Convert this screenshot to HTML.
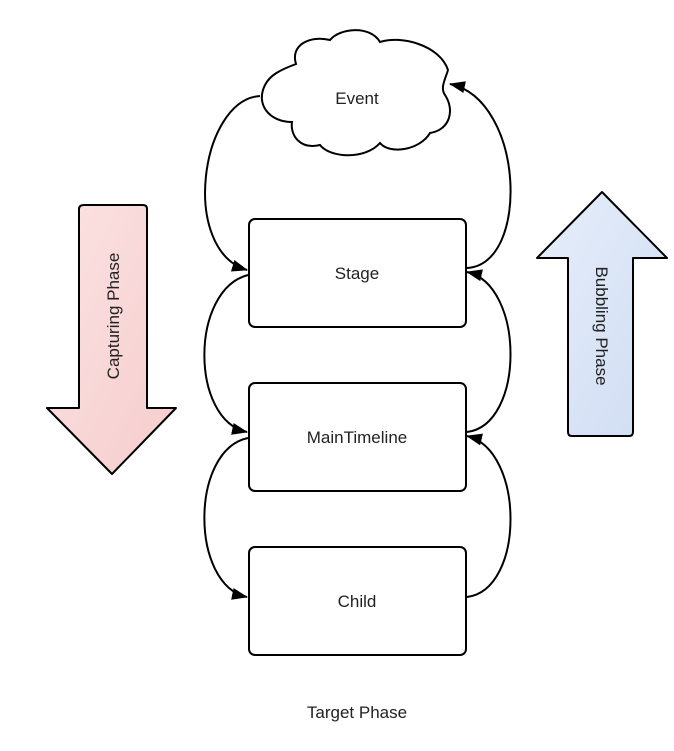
<!DOCTYPE html>
<html><head><style>body{margin:0;background:#fff}</style></head><body>
<svg width="674" height="746" xmlns="http://www.w3.org/2000/svg" font-family="Liberation Sans, sans-serif">
<defs>
<marker id="a" markerWidth="16" markerHeight="12" refX="15" refY="6" orient="auto" markerUnits="userSpaceOnUse" viewBox="0 0 16 12"><path d="M0,0 L16,6 L0,12z" fill="#000"/></marker>
<linearGradient id="r" x1="0" y1="0" x2="1" y2="1"><stop offset="0" stop-color="#fbe3e3"/><stop offset="1" stop-color="#f6cccc"/></linearGradient>
<linearGradient id="b" x1="0" y1="0" x2="1" y2="1"><stop offset="0" stop-color="#e6eefa"/><stop offset="1" stop-color="#cfdcf3"/></linearGradient>
</defs>
<g fill="none" stroke="#000" stroke-width="2">
<path d="M296,64 C290,45 310,35 330,40 C340,28 370,25 380,42 C400,35 440,45 448,70 C445,80 440,88 445,95 C455,110 450,130 430,133 C420,150 390,155 380,143 C365,160 330,158 320,145 C300,150 290,135 292,122 C270,122 255,105 265,85 C270,75 280,70 296,64z" fill="#fff"/>
<rect x="249" y="219" width="217" height="108" rx="6"/>
<rect x="249" y="383" width="217" height="108" rx="6"/>
<rect x="249" y="547" width="217" height="108" rx="6"/>
<path d="M260,96 C200,100 180,250 247,270" marker-end="url(#a)"/>
<path d="M248,275 C190,290 190,420 247,432" marker-end="url(#a)"/>
<path d="M248,438 C190,450 190,585 247,597" marker-end="url(#a)"/>
<path d="M467,597 C525,590 525,450 467,436" marker-end="url(#a)"/>
<path d="M467,432 C525,425 525,285 467,272" marker-end="url(#a)"/>
<path d="M467,268 C530,265 525,100 450,84" marker-end="url(#a)"/>
<path d="M84,205 L143,205 Q147,205 147,209 L147,408 L176,408 L112,474 L47,408 L79,408 L79,209 Q79,205 84,205z" fill="url(#r)" stroke-linejoin="round"/>
<path d="M568,432 L568,258 L537,258 L602,192 L667,258 L633,258 L633,432 Q633,436 629,436 L572,436 Q568,436 568,432z" fill="url(#b)" stroke-linejoin="round"/>
</g>
<g font-size="17" fill="#222" text-anchor="middle">
<text x="357" y="104">Event</text>
<text x="357" y="279">Stage</text>
<text x="357" y="443">MainTimeline</text>
<text x="357" y="607">Child</text>
<text x="357" y="718">Target Phase</text>
<text transform="translate(119,316) rotate(-90)">Capturing Phase</text>
<text transform="translate(596,326) rotate(90)">Bubbling Phase</text>
</g>
</svg>
</body></html>
